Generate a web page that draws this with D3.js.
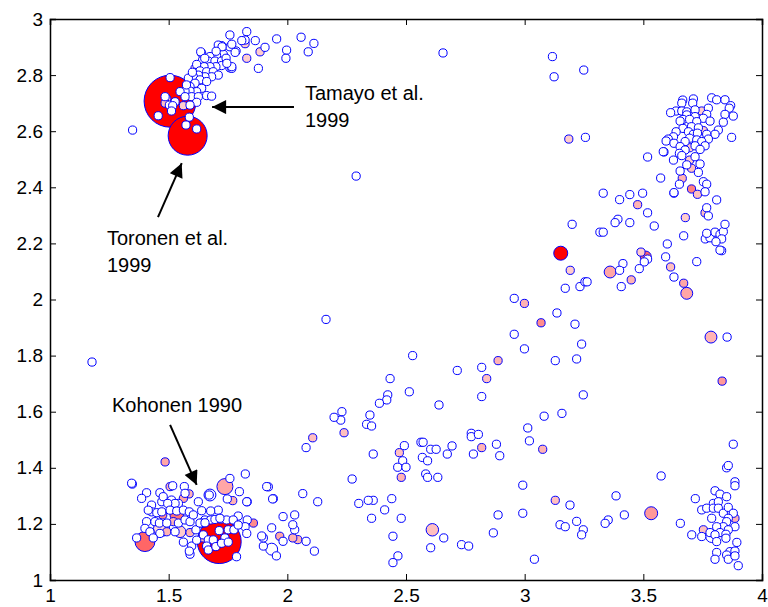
<!DOCTYPE html>
<html>
<head>
<meta charset="utf-8">
<script src="https://cdnjs.cloudflare.com/ajax/libs/d3/7.8.5/d3.min.js"></script>
<style>
  body { margin: 0; background: #fff; }
  text { font-family: Arial, "Liberation Sans", sans-serif; }
</style>
</head>
<body>
<div id="chart"></div>
<script>
// plain (white) points, [x, y]
var topLeft = [
  [1.758,2.943],[1.829,2.955],[1.822,2.925],[1.808,2.923],[1.865,2.923],[1.955,2.929],[2.058,2.935],[2.112,2.913],
  [2.088,2.883],[1.997,2.889],[1.994,2.860],[1.906,2.899],[1.878,2.824],[1.784,2.886],[1.758,2.901],[1.766,2.910],
  [1.723,2.905],[1.713,2.889],[1.730,2.874],[1.702,2.869],[1.674,2.866],[1.639,2.878],[1.635,2.883],[1.643,2.854],
  [1.667,2.850],[1.695,2.850],[1.723,2.850],[1.723,2.834],[1.758,2.826],[1.766,2.824],[1.699,2.830],[1.674,2.830],
  [1.649,2.830],[1.618,2.838],[1.632,2.815],[1.660,2.812],[1.688,2.812],[1.709,2.800],[1.681,2.794],[1.653,2.794],
  [1.625,2.800],[1.604,2.794],[1.583,2.789],[1.632,2.783],[1.660,2.777],[1.611,2.771],[1.590,2.759],[1.639,2.753],
  [1.618,2.741],[1.590,2.743],[1.569,2.743],[1.548,2.741],[1.506,2.791],[1.597,2.723],[1.625,2.723],[1.660,2.727],
  [1.681,2.725],[1.569,2.723],[1.618,2.703],[1.485,2.723],[1.503,2.693],[1.527,2.705],[1.517,2.691],[1.512,2.672],
  [1.590,2.693],[1.456,2.655],[1.587,2.650],[1.573,2.622],[1.618,2.608],[1.348,2.604],[1.709,2.907],[1.725,2.901],
  [1.780,2.881],[1.766,2.830],[1.742,2.860],[1.700,2.885],[1.652,2.860],[1.745,2.842],[1.600,2.810],[1.575,2.765]
];
var middle = [
  [2.163,1.929],[2.528,1.800],[2.433,1.718],[2.514,1.671],[2.423,1.660],[2.419,1.642],[2.388,1.630],[2.639,1.624],
  [2.348,1.588],[2.334,1.555],[2.355,1.549],[2.230,1.600],[2.225,1.570],[2.197,1.580],[2.079,1.472],[2.362,1.449],
  [2.273,1.360],[2.493,1.479],[2.486,1.425],[2.465,1.402],[2.500,1.402],[2.563,1.491],[2.572,1.491],[2.569,1.437],
  [2.591,1.425],[2.604,1.466],[2.627,1.466],[2.583,1.378],[2.591,1.366],[2.634,1.366],[2.674,1.449],[2.694,1.478],
  [2.716,1.747],[2.819,1.758],[2.819,1.654],[2.775,1.523],[2.775,1.511],[2.805,1.519],[2.784,1.449],[2.881,1.484],
  [2.895,1.443],[2.956,2.004],[3.136,1.952],[3.171,2.040],[3.233,2.046],[3.254,2.063],[3.212,1.912],[3.240,1.841],
  [3.219,1.788],[3.129,1.782],[2.956,1.876],[2.999,1.824],[3.247,1.660],[3.157,1.594],[3.082,1.584],[3.013,1.542],
  [3.020,1.496],[2.992,1.338],[2.992,1.238],[2.888,1.232],[2.868,1.168],[3.191,1.267],[3.219,1.209],[3.149,1.197],
  [3.171,1.190],[3.247,1.179],[3.240,1.161],[3.041,1.074],[2.734,1.126],[2.764,1.121],[2.659,1.150],[2.604,1.115],
  [2.480,1.220],[2.410,1.250],[2.440,1.290],[2.445,1.156],[2.466,1.086],[2.445,1.062],[2.362,1.284],[2.341,1.284],
  [2.301,1.273],[2.355,1.220],[2.128,1.279],[2.065,1.308],[2.114,1.103],[2.079,1.138],[1.982,1.138],[2.031,1.179],
  [2.023,1.197],[2.031,1.232],[1.982,1.226],[1.934,1.186],[1.954,1.086],[1.899,1.121],[1.899,1.150],[1.941,1.290],
  [1.920,1.332],[2.29,2.44],[2.656,2.879],[3.117,2.866],[3.124,2.794],[3.249,2.818],[3.256,2.578],[1.177,1.777]
];
var topRight = [
  [3.518,2.508],[3.587,2.526],[3.573,2.433],[3.629,2.379],[3.331,2.379],[3.400,2.356],[3.443,2.374],[3.497,2.379],
  [3.518,2.309],[3.393,2.286],[3.381,2.274],[3.443,2.274],[3.546,2.262],[3.317,2.240],[3.331,2.240],[3.200,2.268],
  [3.670,2.227],[3.601,2.198],[3.725,2.135],[3.594,2.152],[3.629,2.080],[3.518,2.144],[3.504,2.134],[3.483,2.110],
  [3.414,2.128],[3.400,2.104],[3.407,2.046],[3.263,2.063],
  [3.788,2.719],[3.809,2.712],[3.844,2.712],[3.868,2.691],[3.862,2.682],[3.844,2.660],[3.879,2.654],[3.837,2.632],
  [3.816,2.604],[3.802,2.589],[3.872,2.578],[3.666,2.711],[3.662,2.700],[3.711,2.715],[3.708,2.700],[3.638,2.672],
  [3.615,2.666],[3.662,2.672],[3.683,2.669],[3.718,2.676],[3.774,2.682],[3.767,2.660],[3.683,2.658],[3.718,2.652],
  [3.667,2.642],[3.753,2.646],[3.695,2.642],[3.655,2.636],[3.725,2.634],[3.781,2.636],[3.703,2.616],[3.667,2.610],
  [3.732,2.612],[3.690,2.598],[3.711,2.589],[3.638,2.598],[3.627,2.580],[3.605,2.572],[3.767,2.589],[3.728,2.593],
  [3.695,2.575],[3.725,2.569],[3.774,2.572],[3.746,2.563],[3.676,2.563],[3.596,2.565],[3.629,2.557],[3.655,2.545],
  [3.718,2.548],[3.760,2.548],[3.739,2.535],[3.676,2.533],[3.652,2.521],[3.584,2.527],[3.627,2.497],[3.662,2.513],
  [3.718,2.509],[3.739,2.483],[3.683,2.480],[3.655,2.458],[3.732,2.453],[3.652,2.411],[3.753,2.420],[3.767,2.411],
  [3.760,2.384],[3.629,2.381],[3.809,2.355],[3.767,2.327],[3.774,2.298],[3.761,2.216],[3.781,2.220],[3.802,2.240],
  [3.823,2.232],[3.837,2.242],[3.844,2.268],[3.830,2.216],[3.806,2.206],[3.830,2.174],[3.823,2.176],[3.767,2.236]
];
var bottomRight = [
  [3.853,1.866],[3.879,1.484],[3.851,1.400],[3.858,1.408],[3.886,1.350],[3.886,1.336],[3.575,1.371],[3.385,1.300],
  [3.420,1.232],[3.352,1.214],[3.339,1.202],[3.656,1.202],
  [3.719,1.290],[3.802,1.318],[3.823,1.306],[3.851,1.297],[3.795,1.273],[3.816,1.279],[3.746,1.250],[3.767,1.256],
  [3.795,1.256],[3.816,1.256],[3.837,1.238],[3.858,1.259],[3.879,1.238],[3.788,1.220],[3.858,1.220],[3.851,1.208],
  [3.837,1.190],[3.809,1.190],[3.886,1.190],[3.858,1.179],[3.781,1.169],[3.823,1.169],[3.848,1.163],[3.746,1.155],
  [3.802,1.161],[3.848,1.149],[3.704,1.161],[3.809,1.137],[3.894,1.134],[3.809,1.098],[3.802,1.074],[3.865,1.101],
  [3.886,1.103],[3.851,1.089],[3.858,1.074],[3.886,1.086],[3.900,1.051]
];
var bottomLeft = [
  [1.347,1.342],[1.407,1.311],[1.386,1.291],[1.428,1.267],[1.463,1.311],[1.471,1.279],[1.517,1.336],[1.477,1.297],
  [1.512,1.285],[1.541,1.273],[1.566,1.333],[1.569,1.309],[1.527,1.273],[1.496,1.273],[1.428,1.243],[1.414,1.249],
  [1.450,1.240],[1.471,1.243],[1.506,1.249],[1.534,1.246],[1.562,1.249],[1.587,1.243],[1.407,1.208],[1.442,1.208],
  [1.461,1.203],[1.492,1.203],[1.541,1.203],[1.569,1.214],[1.590,1.208],[1.604,1.232],[1.625,1.279],[1.639,1.247],
  [1.671,1.303],[1.653,1.214],[1.677,1.214],[1.709,1.249],[1.719,1.217],[1.744,1.214],[1.758,1.362],[1.747,1.289],
  [1.798,1.315],[1.823,1.378],[1.831,1.279],[1.793,1.228],[1.772,1.214],[1.831,1.214],[1.913,1.333],[1.677,1.246],
  [1.639,1.203],[1.400,1.184],[1.421,1.172],[1.463,1.166],[1.527,1.172],[1.615,1.179],[1.365,1.150],[1.435,1.150],
  [1.562,1.135],[1.597,1.121],[1.590,1.092],[1.618,1.142],[1.632,1.203],[1.653,1.204],[1.695,1.216],[1.716,1.220],
  [1.646,1.161],[1.667,1.143],[1.688,1.143],[1.713,1.176],[1.737,1.150],[1.751,1.179],[1.775,1.179],[1.660,1.121],
  [1.667,1.107],[1.699,1.119],[1.723,1.131],[1.751,1.135],[1.786,1.083],[1.822,1.190],[1.829,1.166],[1.793,1.196],
  [1.587,1.103],[1.344,1.345],[1.829,1.279],[1.892,1.157],[1.938,1.289]
];
// a few plain points drawn a bit larger
var plainLarge = [[1.674,1.303],[1.934,1.110],[3.788,1.155]];

// coloured points: [x, y, citations, share]
var marked = [
  [1.506,2.707,400,1.0],[1.580,2.584,225,1.0],[1.713,1.137,286,1.0],[1.400,1.137,59,0.6],[1.737,1.333,38,0.35],
  [1.470,1.184,38,0.15],[3.152,2.165,29,1.0],[3.533,1.238,25,0.4],[2.611,1.179,23,0.25],[3.683,2.022,21,0.35],
  [3.360,2.098,21,0.35],[3.785,1.866,21,0.3],[3.510,2.153,18,0.6],[1.534,1.232,27,0.55],[1.548,1.172,20,0.2],
  [1.829,2.860,10,0.2],[1.885,2.883,10,0.2],[1.822,2.912,10,0.2],[1.611,2.824,10,0.15],[1.492,2.715,10,0.25],
  [1.485,2.700,10,0.25],[1.562,2.691,10,0.2],[2.239,1.525,10,0.25],[2.107,1.507,10,0.25],[2.472,1.454,10,0.25],
  [2.480,1.366,10,0.3],[2.840,1.718,10,0.25],[2.888,1.782,10,0.3],[2.999,1.986,10,0.3],[3.069,1.917,10,0.45],
  [2.819,1.472,10,0.3],[3.076,1.466,10,0.3],[3.129,1.284,10,0.25],[2.044,1.144,10,0.3],[2.023,1.150,10,0.3],
  [1.968,1.156,10,0.35],[3.186,2.572,10,0.2],[3.476,2.338,10,0.3],[3.677,2.292,10,0.2],[3.615,2.116,10,0.25],
  [3.670,2.058,10,0.35],[3.490,2.169,10,0.2],[3.449,2.070,10,0.3],[3.192,2.104,10,0.2],[3.746,2.672,10,0.2],
  [3.753,2.602,10,0.2],[3.695,2.541,10,0.2],[3.695,2.497,10,0.2],[3.703,2.468,10,0.25],[3.664,2.432,10,0.3],
  [3.703,2.394,10,0.5],[3.728,2.375,10,0.25],[3.760,2.309,10,0.25],[3.886,1.220,10,0.3],[3.753,1.179,10,0.25],
  [3.832,1.709,10,0.4],[1.485,1.421,10,0.35],[1.506,1.333,10,0.3],[1.586,1.307,10,0.3],[1.562,1.291,10,0.35],
  [1.475,1.232,10,0.45],[1.520,1.208,10,0.3],[1.492,1.172,10,0.3],[1.590,1.169,10,0.3],[1.646,1.150,10,0.3],
  [1.646,1.203,10,0.25],[1.770,1.283,10,0.3],[1.857,1.203,10,0.45]
];

var xTicks = [1, 1.5, 2, 2.5, 3, 3.5, 4];
var yTicks = [1, 1.2, 1.4, 1.6, 1.8, 2, 2.2, 2.4, 2.6, 2.8, 3];

var notes = [
  {lines: ["Tamayo et al.", "1999"], x: 2.074, y: 2.711, from: [2.028, 2.686], to: [1.683, 2.686]},
  {lines: ["Toronen et al.", "1999"], x: 1.240, y: 2.194, from: [1.455, 2.294], to: [1.555, 2.486]},
  {lines: ["Kohonen 1990"], x: 1.261, y: 1.599, from: [1.506, 1.553], to: [1.618, 1.339]}
];

var width = 768,
    height = 607;
var padLeft = 50, padTop = 19, padRight = 762, padBottom = 580;

var svg = d3.select("#chart")
    .append("svg")
    .attr("width", width)
    .attr("height", height)

var x = d3.scaleLinear().domain([1, 4]).range([padLeft, padRight])
var y = d3.scaleLinear().domain([1, 3]).range([padBottom, padTop])
var r = d3.scaleSqrt().domain([0, 400]).range([0, 26])
var fill = d3.scaleLinear().domain([0, 1]).range(["#ffffff", "#ff0000"])

// coloured ones first, biggest at the back
var markedSorted = marked.slice().sort(function(a, b) { return b[2] - a[2] })

svg.selectAll(".marked")
    .data(markedSorted)
    .enter().append("circle")
    .attr("class", "marked")
    .attr("cx", function(d) { return x(d[0]) })
    .attr("cy", function(d) { return y(d[1]) })
    .attr("r", function(d) { return r(d[2]) })
    .attr("fill", function(d) { return fill(d[3]) })
    .attr("stroke", "#0000ff")
    .attr("stroke-width", 1)

var plain = topLeft.concat(middle, topRight, bottomRight, bottomLeft)

svg.selectAll(".plainbig")
    .data(plainLarge)
    .enter().append("circle")
    .attr("class", "plainbig")
    .attr("cx", function(d) { return x(d[0]) })
    .attr("cy", function(d) { return y(d[1]) })
    .attr("r", r(21))
    .attr("fill", "#fff")
    .attr("stroke", "#0000ff")
    .attr("stroke-width", 1)

svg.selectAll(".plain")
    .data(plain)
    .enter().append("circle")
    .attr("class", "plain")
    .attr("cx", function(d) { return x(d[0]) })
    .attr("cy", function(d) { return y(d[1]) })
    .attr("r", r(10))
    .attr("fill", "#fff")
    .attr("stroke", "#0000ff")
    .attr("stroke-width", 1)

// axes box, matlab style ticks inside
var axisG = svg.append("g")
axisG.append("g").attr("transform", "translate(0," + padBottom + ")")
    .call(d3.axisBottom(x).tickValues(xTicks).tickSize(-6).tickPadding(9).tickFormat(d3.format("")))
axisG.append("g").attr("transform", "translate(0," + padTop + ")")
    .call(d3.axisTop(x).tickValues(xTicks).tickSize(-6).tickFormat(""))
axisG.append("g").attr("transform", "translate(" + padLeft + ",0)")
    .call(d3.axisLeft(y).tickValues(yTicks).tickSize(-6).tickPadding(7).tickFormat(d3.format("")))
axisG.append("g").attr("transform", "translate(" + padRight + ",0)")
    .call(d3.axisRight(y).tickValues(yTicks).tickSize(-6).tickFormat(""))

axisG.selectAll(".domain").attr("stroke", "#000").attr("stroke-width", 1.5)
axisG.selectAll(".tick line").attr("stroke", "#000")
axisG.selectAll("g").attr("font-size", 19).attr("font-family", "Arial, 'Liberation Sans', sans-serif")
axisG.selectAll("text").attr("fill", "#000")

// annotations
svg.append("defs").append("marker")
    .attr("id", "head")
    .attr("viewBox", "0 0 10 10")
    .attr("refX", 10).attr("refY", 5)
    .attr("markerWidth", 16).attr("markerHeight", 14)
    .attr("markerUnits", "userSpaceOnUse")
    .attr("orient", "auto")
    .append("path")
    .attr("d", "M0,0L10,5L0,10Z")
    .attr("fill", "#000")

notes.forEach(function(n) {
    svg.append("line")
        .attr("x1", x(n.from[0])).attr("y1", y(n.from[1]))
        .attr("x2", x(n.to[0])).attr("y2", y(n.to[1]))
        .attr("stroke", "#000")
        .attr("stroke-width", 2)
        .attr("marker-end", "url(#head)")
    n.lines.forEach(function(t, i) {
        svg.append("text")
            .attr("x", x(n.x))
            .attr("y", y(n.y) + i * 27)
            .attr("font-size", 20)
            .attr("fill", "#000")
            .text(t)
    })
})
</script>
</body>
</html>
